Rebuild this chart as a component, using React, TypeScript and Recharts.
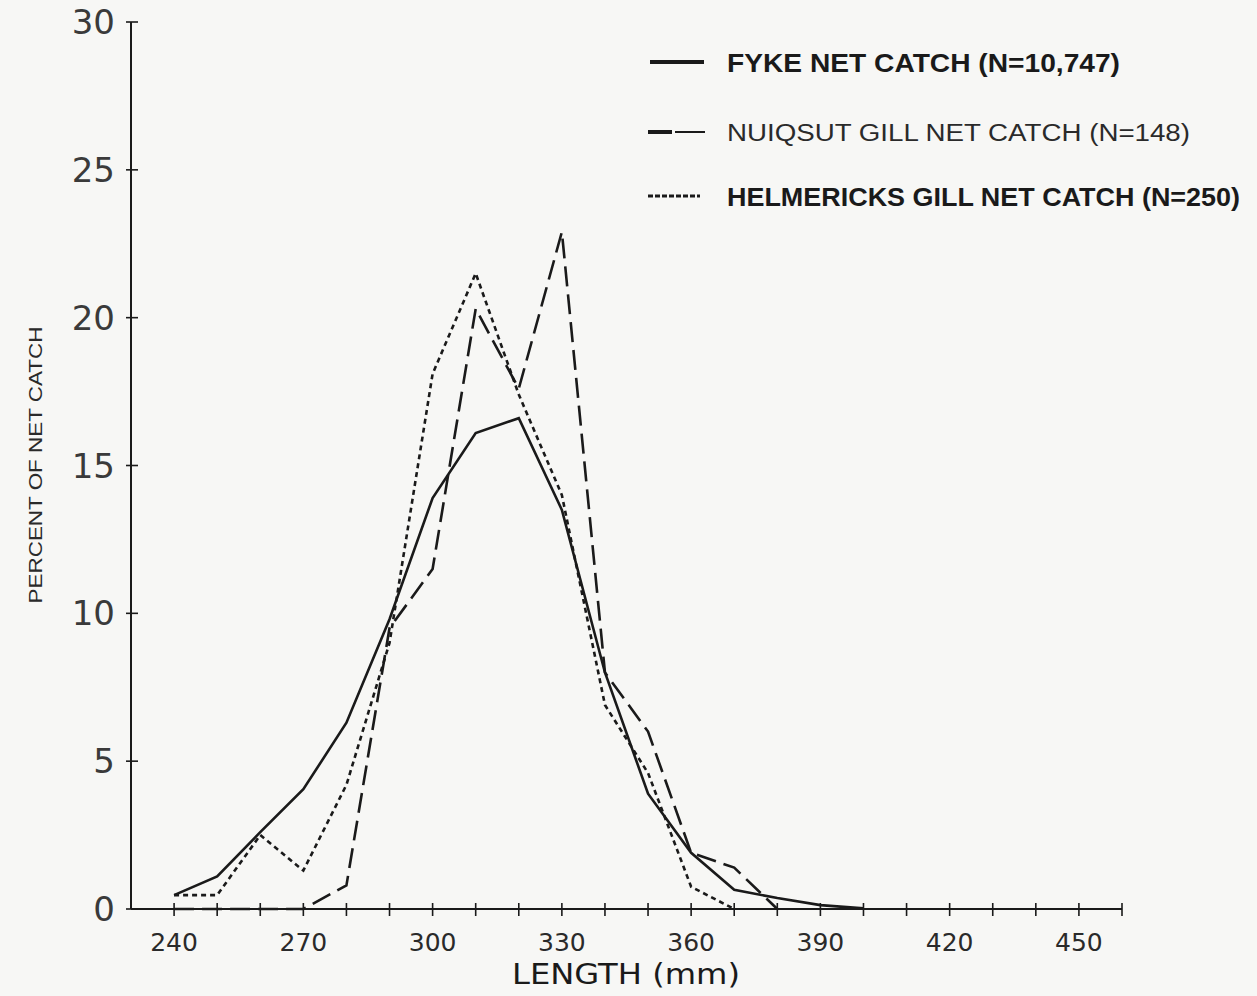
import React from 'react';
import { LineChart, Line, XAxis, YAxis, Legend, Label } from 'recharts';

const lengths = [240, 250, 260, 270, 280, 290, 300, 310, 320, 330, 340, 350, 360, 370, 380, 390, 400];
const fykeNet = [0.47, 1.1, 2.6, 4.05, 6.3, 9.8, 13.9, 16.1, 16.6, 13.5, 8.0, 3.9, 1.9, 0.65, 0.37, 0.13, 0.02];
const nuiqsutGillNet = [0, 0, 0, 0, 0.8, 9.5, 11.5, 20.3, 17.6, 22.9, 8.0, 6.0, 1.9, 1.4, 0];
const helmericksGillNet = [0.47, 0.47, 2.5, 1.3, 4.2, 9.0, 18.1, 21.5, 17.4, 14.0, 6.9, 4.6, 0.75, 0];

const xTicks = [240, 250, 260, 270, 280, 290, 300, 310, 320, 330, 340, 350, 360, 370, 380, 390, 400, 410, 420, 430, 440, 450, 460];
const xLabelTicks = [240, 270, 300, 330, 360, 390, 420, 450];
const yTicks = [0, 5, 10, 15, 20, 25, 30];

const seriesNames = {
  fyke: 'FYKE NET CATCH (N=10,747)',
  nuiqsut: 'NUIQSUT GILL NET CATCH (N=148)',
  helmericks: 'HELMERICKS GILL NET CATCH (N=250)',
};

const data = lengths.map((len, i) => ({
  length: len,
  fyke: fykeNet[i] ?? null,
  nuiqsut: nuiqsutGillNet[i] ?? null,
  helmericks: helmericksGillNet[i] ?? null,
}));

const INK = '#1a1a1a';

const XTick = (props: any) => {
  const { x, y, payload } = props;
  const v = payload.value;
  return (
    <g>
      <line x1={x} x2={x} y1={y - 6} y2={y + 7} stroke={INK} strokeWidth={1.6} />
      {xLabelTicks.includes(v) && (
        <text x={x} y={y + 42} textAnchor="middle" fontSize={25} fontFamily="DejaVu Sans" fill="#2a2a2a">
          {v}
        </text>
      )}
    </g>
  );
};

const YTick = (props: any) => {
  const { x, y, payload } = props;
  return (
    <g>
      <line x1={x - 5} x2={x + 7} y1={y} y2={y} stroke={INK} strokeWidth={1.6} />
      <text x={x - 16} y={y + 12} textAnchor="end" fontSize={34} fontFamily="DejaVu Sans" fill="#3a3a3a">
        {payload.value}
      </text>
    </g>
  );
};

const renderLegend = () => (
  <svg width={617} height={200} style={{ overflow: 'visible' }}>
    <line x1={10} x2={64} y1={32} y2={32} stroke={INK} strokeWidth={4} />
    <text x={87} y={42} fontSize={25} fontWeight="bold" fontFamily="Liberation Sans" fill={INK} textLength={393} lengthAdjust="spacingAndGlyphs">
      {seriesNames.fyke}
    </text>
    <line x1={8} x2={32} y1={102} y2={102} stroke={INK} strokeWidth={4} />
    <line x1={35} x2={65} y1={102} y2={102} stroke={INK} strokeWidth={2} />
    <text x={87} y={111} fontSize={23} fontFamily="Liberation Sans" fill="#2a2a2a" textLength={463} lengthAdjust="spacingAndGlyphs">
      {seriesNames.nuiqsut}
    </text>
    <line x1={8} x2={60} y1={166} y2={166} stroke={INK} strokeWidth={3} strokeDasharray="5 2" />
    <text x={87} y={176} fontSize={25} fontWeight="bold" fontFamily="Liberation Sans" fill={INK} textLength={513} lengthAdjust="spacingAndGlyphs">
      {seriesNames.helmericks}
    </text>
  </svg>
);

export default function App() {
  return (
    <div style={{ position: 'absolute', left: 0, top: 0, width: 1257, height: 996, background: '#f7f7f5' }}>
      <LineChart width={1257} height={996} data={data} margin={{ top: 22, right: 135, bottom: 27, left: 71 }}>
        <XAxis
          dataKey="length"
          type="number"
          domain={[230, 460]}
          ticks={xTicks}
          interval={0}
          allowDataOverflow
          tickLine={false}
          tickSize={0}
          tickMargin={0}
          height={60}
          axisLine={{ stroke: INK, strokeWidth: 2 }}
          tick={<XTick />}
        >
          <Label
            content={() => (
              <text x={626} y={984} textAnchor="middle" fontSize={29} fontFamily="DejaVu Sans" fill={INK} textLength={228} lengthAdjust="spacingAndGlyphs">
                LENGTH (mm)
              </text>
            )}
          />
        </XAxis>
        <YAxis
          type="number"
          domain={[0, 30]}
          ticks={yTicks}
          interval={0}
          width={60}
          tickLine={false}
          tickSize={0}
          tickMargin={0}
          axisLine={{ stroke: INK, strokeWidth: 2 }}
          tick={<YTick />}
        >
          <Label
            content={() => (
              <text
                x={35}
                y={465}
                transform="rotate(-90, 35, 465)"
                textAnchor="middle"
                dominantBaseline="central"
                fontSize={19}
                fontFamily="Liberation Sans"
                fill="#2a2a2a"
                textLength={277}
                lengthAdjust="spacingAndGlyphs"
              >
                PERCENT OF NET CATCH
              </text>
            )}
          />
        </YAxis>
        <Legend
          layout="vertical"
          align="center"
          verticalAlign="middle"
          content={renderLegend}
          wrapperStyle={{ position: 'absolute', left: 640, top: 30, width: 617, height: 200 }}
        />
        <Line
          type="linear"
          dataKey="fyke"
          name={seriesNames.fyke}
          stroke={INK}
          strokeWidth={2.6}
          dot={false}
          isAnimationActive={false}
        />
        <Line
          type="linear"
          dataKey="nuiqsut"
          name={seriesNames.nuiqsut}
          stroke={INK}
          strokeWidth={2.6}
          strokeDasharray="20 8"
          dot={false}
          isAnimationActive={false}
        />
        <Line
          type="linear"
          dataKey="helmericks"
          name={seriesNames.helmericks}
          stroke={INK}
          strokeWidth={2.6}
          strokeDasharray="5 4"
          dot={false}
          isAnimationActive={false}
        />
      </LineChart>
    </div>
  );
}
